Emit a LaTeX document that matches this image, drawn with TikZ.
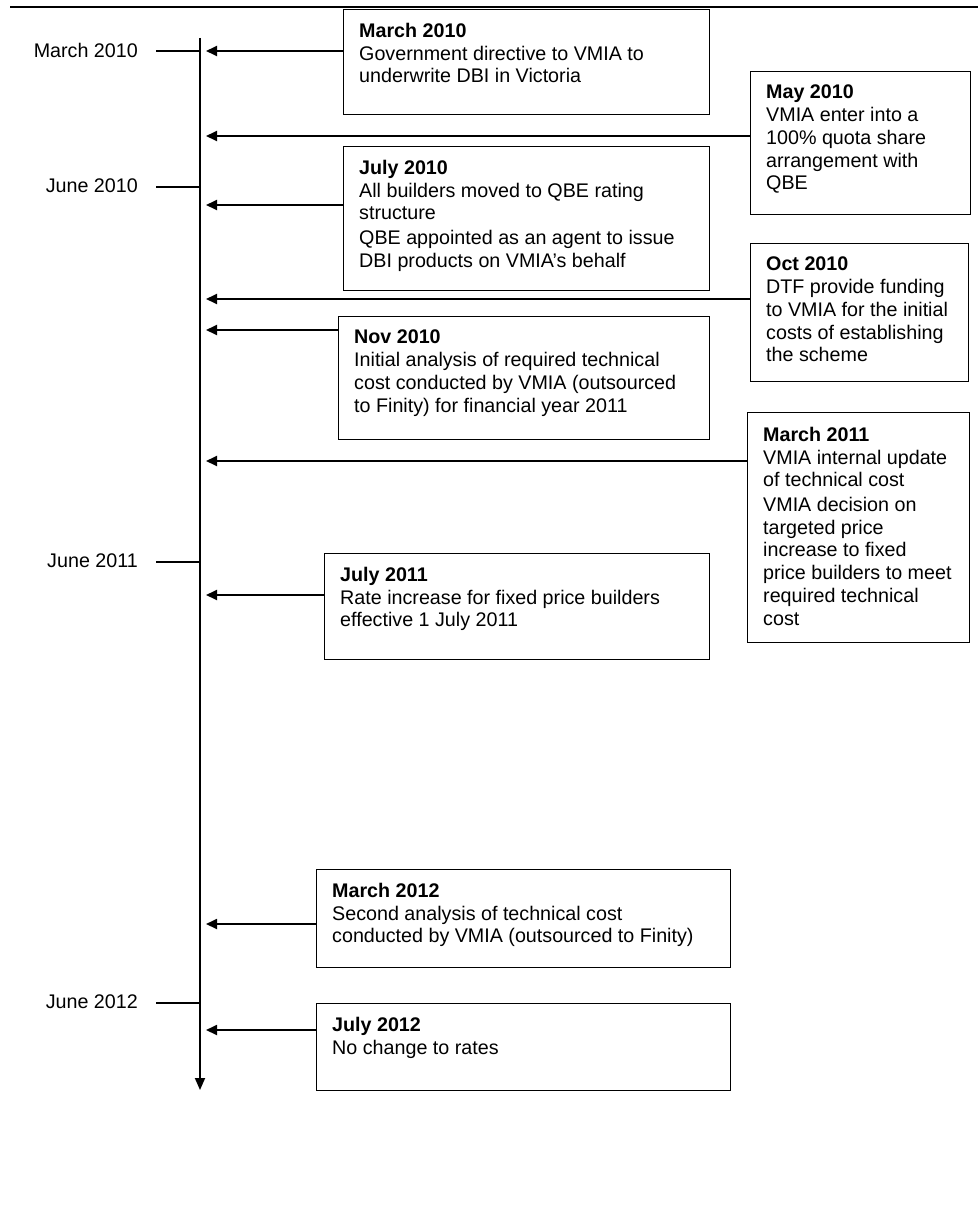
\documentclass[tikz,border=0pt]{standalone}
\usepackage{fontspec}
\setmainfont{Liberation Sans}
\usetikzlibrary{arrows.meta}
\newcommand{\evfont}{\fontsize{19.7}{22.7}\selectfont}
\begin{document}
\begin{tikzpicture}[x=1pt,y=-1pt,
  evbox/.style={draw, line width=1.2pt, inner sep=0pt, anchor=north west},
  evtext/.style={anchor=north west, inner sep=0pt, align=left, font=\evfont},
  ticklabel/.style={anchor=east, inner sep=0pt, font=\evfont},
  tickline/.style={line width=1.2pt},
  evarrow/.style={line width=1.8pt, -{Triangle[length=11pt,width=10pt]}},
  mainline/.style={line width=1.8pt, -{Triangle[length=12pt,width=10pt]}}
]
\useasboundingbox (0,0) rectangle (978,1207);
% top rule
\coordinate (ruleL) at (10,7);
\coordinate (ruleR) at (978,7);
\draw[line width=2pt] (ruleL) -- (ruleR);
% timeline
\coordinate (tTop) at (200,38);
\coordinate (tBot) at (200,1090);
\draw[mainline] (tTop) -- (tBot);
% ticks
\foreach \nm/\yy/\lab in {a/51/March 2010, b/187/June 2010, c/562/June 2011, d/1003/June 2012}{
  \coordinate (tick\nm) at (200,\yy);
  \coordinate (tickS\nm) at (156,\yy);
  \draw[tickline] (tickS\nm) -- (tick\nm);
  \node[ticklabel] (lab\nm) at (138,\yy-1) {\lab};
}
% boxes
\node[evbox, minimum width=366pt, minimum height=105pt] (bMarA) at (343,9) {};
\node[evbox, minimum width=220pt, minimum height=143pt] (bMayA) at (750,71) {};
\node[evbox, minimum width=366pt, minimum height=144pt] (bJulA) at (343,146) {};
\node[evbox, minimum width=218pt, minimum height=138pt] (bOctA) at (750,243) {};
\node[evbox, minimum width=371pt, minimum height=123pt] (bNovA) at (338,316) {};
\node[evbox, minimum width=222pt, minimum height=230pt] (bMarB) at (747,412) {};
\node[evbox, minimum width=385pt, minimum height=106pt] (bJulB) at (324,553) {};
\node[evbox, minimum width=414pt, minimum height=98pt] (bMarC) at (316,869) {};
\node[evbox, minimum width=414pt, minimum height=87pt] (bJulC) at (316,1003) {};
% texts
\node[evtext] (xMarA) at (359,23) {\textbf{March 2010}\\Government directive to VMIA to\\underwrite DBI in Victoria};
\node[evtext] (xMayA) at (766,85) {\textbf{May 2010}\\VMIA enter into a\\100\% quota share\\arrangement with\\QBE};
\node[evtext] (xJulA) at (359,160) {\textbf{July 2010}\\All builders moved to QBE rating\\structure\\[2pt]QBE appointed as an agent to issue\\DBI products on VMIA’s behalf};
\node[evtext] (xOctA) at (766,257) {\textbf{Oct 2010}\\DTF provide funding\\to VMIA for the initial\\costs of establishing\\the scheme};
\node[evtext] (xNovA) at (354,330) {\textbf{Nov 2010}\\Initial analysis of required technical\\cost conducted by VMIA (outsourced\\to Finity) for financial year 2011};
\node[evtext] (xMarB) at (763,427) {\textbf{March 2011}\\VMIA internal update\\of technical cost\\[2pt]VMIA decision on\\targeted price\\increase to fixed\\price builders to meet\\required technical\\cost};
\node[evtext] (xJulB) at (340,567) {\textbf{July 2011}\\Rate increase for fixed price builders\\effective 1 July 2011};
\node[evtext] (xMarC) at (332,883) {\textbf{March 2012}\\Second analysis of technical cost\\conducted by VMIA (outsourced to Finity)};
\node[evtext] (xJulC) at (332,1017) {\textbf{July 2012}\\No change to rates};
% arrow targets on the timeline
\foreach \nm/\yy in {MarA/51, MayA/136, JulA/205, OctA/299, NovA/330, MarB/461, JulB/595, MarC/924, JulC/1030}{
  \coordinate (p\nm) at (206,\yy);
}
\foreach \nm in {MarA, MayA, JulA, OctA, NovA, MarB, JulB, MarC, JulC}{
  \draw[evarrow] (b\nm.north west |- p\nm) -- (p\nm);
}
\end{tikzpicture}
\end{document}
